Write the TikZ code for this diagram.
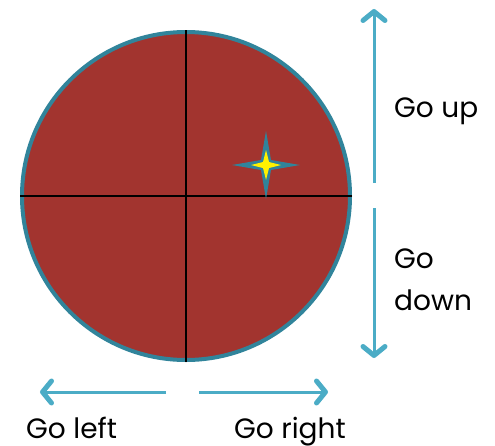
\documentclass[tikz,border=0pt]{standalone}
\usepackage{fontspec}
\setmainfont{Poppins}
\usetikzlibrary{arrows.meta}
\definecolor{discred}{HTML}{A2342F}
\definecolor{rimteal}{HTML}{31849B}
\definecolor{arrteal}{HTML}{4BACC6}
\tikzset{
  dirarrow/.style={draw=arrteal, line width=3pt, -{Straight Barb[length=9pt,width=22pt,line width=5pt,round]}},
  lbl/.style={font=\fontsize{28}{32}\selectfont, inner sep=0pt, text=black, anchor=base west},
  cross/.style={draw=black, line width=2pt}
}
\begin{document}
\begin{tikzpicture}[x=1pt,y=-1pt]
\useasboundingbox (0,0) rectangle (495,445);
\node[circle, minimum size=328pt, inner sep=0pt, fill=discred, draw=rimteal, line width=4pt] (disc) at (186,196) {};
\draw[cross] (disc.west) -- (disc.east);
\draw[cross] (disc.north) -- (disc.south);
% star
\coordinate (st) at (266,165);
\fill[rimteal] (st) ++(34,0) -- ++(-29,-5) -- ++(-5,-29) -- ++(-5,29) -- ++(-29,5) -- ++(29,5) -- ++(5,29) -- ++(5,-29) -- cycle;
\fill[yellow] (st) ++(15,0) -- ++(-12,-3) -- ++(-3,-12) -- ++(-3,12) -- ++(-12,3) -- ++(12,3) -- ++(3,12) -- ++(3,-12) -- cycle;
% arrows
\coordinate (upA) at (374,183);
\coordinate (upB) at (374,9);
\coordinate (dnA) at (374,208);
\coordinate (dnB) at (374,358);
\coordinate (lfA) at (166,392);
\coordinate (lfB) at (40,392);
\coordinate (rtA) at (199,392);
\coordinate (rtB) at (328,392);
\draw[dirarrow] (upA) -- (upB);
\draw[dirarrow] (dnA) -- (dnB);
\draw[dirarrow] (lfA) -- (lfB);
\draw[dirarrow] (rtA) -- (rtB);
% labels
\node[lbl] (up) at (394,117) {Go up};
\node[lbl] (go) at (394,268) {Go};
\node[lbl] (down) at (394,310) {down};
\node[lbl] (left) at (26,438) {Go left};
\node[lbl] (right) at (234,438) {Go right};
\end{tikzpicture}
\end{document}
